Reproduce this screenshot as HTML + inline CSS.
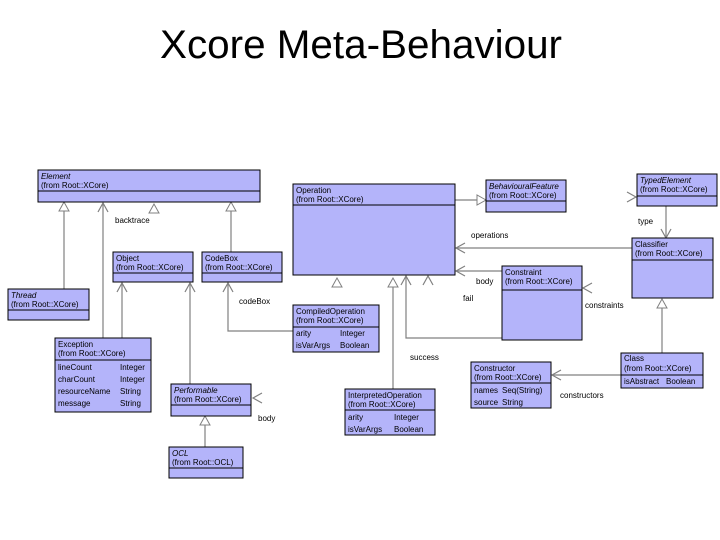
<!DOCTYPE html>
<html><head><meta charset="utf-8"><style>
html,body{margin:0;padding:0;background:#fff;}
svg{display:block;}
text{font-family:"Liberation Sans","DejaVu Sans",sans-serif;}
.b{fill:#b4b4fa;stroke:#000;stroke-width:1;}
.s{stroke:#000;stroke-width:1;}
.t{font-size:8px;fill:#000;}
.i{font-style:italic;}
.l{stroke:#808080;stroke-width:1.2;fill:none;}
.tri{stroke:#808080;stroke-width:1;fill:#fff;}
.lab{font-size:8px;fill:#000;}
</style></head><body>
<svg width="720" height="540" viewBox="0 0 720 540" xmlns="http://www.w3.org/2000/svg">
<text x="160" y="58" font-size="40" textLength="402" lengthAdjust="spacingAndGlyphs">Xcore Meta-Behaviour</text>

<!-- connector lines -->
<path class="l" d="M64 289V210"/>
<path class="l" d="M103 338V203"/>
<path class="l" d="M122 338V283"/>
<path class="l" d="M190 384V283"/>
<path class="l" d="M231 252V210"/>
<path class="l" d="M228 283V331H293"/>
<path class="l" d="M455 200H478"/>
<path class="l" d="M666 206V238"/>
<path class="l" d="M632 248H456"/>
<path class="l" d="M502 271H456"/>
<path class="l" d="M662 353V308"/>
<path class="l" d="M393 389V287"/>
<path class="l" d="M406 276V338H502"/>
<path class="l" d="M621 375H552"/>
<path class="l" d="M205 447V424"/>

<!-- hollow triangles -->
<polygon class="tri" points="64,202 59,211 69,211"/>
<polygon class="tri" points="154,204 149,213 159,213"/>
<polygon class="tri" points="231,202 226,211 236,211"/>
<polygon class="tri" points="486,200 477,195 477,205"/>
<polygon class="tri" points="337,278 332,287 342,287"/>
<polygon class="tri" points="393,278 388,287 398,287"/>
<polygon class="tri" points="662,299 657,308 667,308"/>
<polygon class="tri" points="205,416 200,425 210,425"/>

<!-- open arrows -->
<path class="l" d="M98 212L103 203L108 212"/>
<path class="l" d="M117 292L122 283L127 292"/>
<path class="l" d="M185 292L190 283L195 292"/>
<path class="l" d="M223 292L228 283L233 292"/>
<path class="l" d="M401 285L406 276L411 285"/>
<path class="l" d="M423 285L428 276L433 285"/>
<path class="l" d="M465 243L456 248L465 253"/>
<path class="l" d="M465 266L456 271L465 276"/>
<path class="l" d="M592 283L583 288L592 293"/>
<path class="l" d="M627 192L636 197L627 202"/>
<path class="l" d="M661 229L666 238L671 229"/>
<path class="l" d="M561 370L552 375L561 380"/>
<path class="l" d="M262 393L253 398L262 403"/>

<!-- labels -->
<text class="lab" x="115" y="223">backtrace</text>
<text class="lab" x="239" y="304">codeBox</text>
<text class="lab" x="471" y="238">operations</text>
<text class="lab" x="638" y="224">type</text>
<text class="lab" x="476" y="284">body</text>
<text class="lab" x="463" y="301">fail</text>
<text class="lab" x="585" y="308">constraints</text>
<text class="lab" x="410" y="360">success</text>
<text class="lab" x="560" y="398">constructors</text>
<text class="lab" x="258" y="421">body</text>

<!-- Element -->
<rect class="b" x="38" y="170" width="222" height="32"/><line class="s" x1="38" y1="191" x2="260" y2="191"/>
<text class="t i" x="41" y="179">Element</text><text class="t" x="41" y="188">(from Root::XCore)</text>
<!-- Thread -->
<rect class="b" x="8" y="289" width="81" height="31"/><line class="s" x1="8" y1="310" x2="89" y2="310"/>
<text class="t i" x="11" y="298">Thread</text><text class="t" x="11" y="307">(from Root::XCore)</text>
<!-- Object -->
<rect class="b" x="113" y="252" width="80" height="30"/><line class="s" x1="113" y1="273" x2="193" y2="273"/>
<text class="t" x="116" y="261">Object</text><text class="t" x="116" y="270">(from Root::XCore)</text>
<!-- CodeBox -->
<rect class="b" x="202" y="252" width="80" height="30"/><line class="s" x1="202" y1="273" x2="282" y2="273"/>
<text class="t" x="205" y="261">CodeBox</text><text class="t" x="205" y="270">(from Root::XCore)</text>
<!-- Operation -->
<rect class="b" x="293" y="184" width="162" height="91"/><line class="s" x1="293" y1="205" x2="455" y2="205"/>
<text class="t" x="296" y="193">Operation</text><text class="t" x="296" y="202">(from Root::XCore)</text>
<!-- BehaviouralFeature -->
<rect class="b" x="486" y="180" width="80" height="32"/><line class="s" x1="486" y1="201" x2="566" y2="201"/>
<text class="t i" x="489" y="189">BehaviouralFeature</text><text class="t" x="489" y="198">(from Root::XCore)</text>
<!-- TypedElement -->
<rect class="b" x="637" y="174" width="80" height="32"/><line class="s" x1="637" y1="196" x2="717" y2="196"/>
<text class="t i" x="640" y="183">TypedElement</text><text class="t" x="640" y="192">(from Root::XCore)</text>
<!-- Classifier -->
<rect class="b" x="632" y="238" width="81" height="60"/><line class="s" x1="632" y1="260" x2="713" y2="260"/>
<text class="t" x="635" y="247">Classifier</text><text class="t" x="635" y="256">(from Root::XCore)</text>
<!-- Constraint -->
<rect class="b" x="502" y="266" width="80" height="74"/><line class="s" x1="502" y1="290" x2="582" y2="290"/>
<text class="t" x="505" y="275">Constraint</text><text class="t" x="505" y="284">(from Root::XCore)</text>
<!-- CompiledOperation -->
<rect class="b" x="293" y="305" width="86" height="47"/><line class="s" x1="293" y1="327" x2="379" y2="327"/>
<text class="t" x="296" y="314">CompiledOperation</text><text class="t" x="296" y="323">(from Root::XCore)</text>
<text class="t" x="296" y="336">arity</text><text class="t" x="340" y="336">Integer</text>
<text class="t" x="296" y="348">isVarArgs</text><text class="t" x="340" y="348">Boolean</text>
<!-- Exception -->
<rect class="b" x="55" y="338" width="96" height="74"/><line class="s" x1="55" y1="360" x2="151" y2="360"/>
<text class="t" x="58" y="347">Exception</text><text class="t" x="58" y="356">(from Root::XCore)</text>
<text class="t" x="58" y="370">lineCount</text><text class="t" x="120" y="370">Integer</text>
<text class="t" x="58" y="382">charCount</text><text class="t" x="120" y="382">Integer</text>
<text class="t" x="58" y="394">resourceName</text><text class="t" x="120" y="394">String</text>
<text class="t" x="58" y="406">message</text><text class="t" x="120" y="406">String</text>
<!-- Performable -->
<rect class="b" x="171" y="384" width="80" height="32"/><line class="s" x1="171" y1="405" x2="251" y2="405"/>
<text class="t i" x="174" y="393">Performable</text><text class="t" x="174" y="402">(from Root::XCore)</text>
<!-- OCL -->
<rect class="b" x="169" y="447" width="74" height="31"/><line class="s" x1="169" y1="468" x2="243" y2="468"/>
<text class="t i" x="172" y="456">OCL</text><text class="t" x="172" y="465">(from Root::OCL)</text>
<!-- InterpretedOperation -->
<rect class="b" x="345" y="389" width="90" height="46"/><line class="s" x1="345" y1="410" x2="435" y2="410"/>
<text class="t" x="348" y="398">InterpretedOperation</text><text class="t" x="348" y="407">(from Root::XCore)</text>
<text class="t" x="348" y="420">arity</text><text class="t" x="394" y="420">Integer</text>
<text class="t" x="348" y="432">isVarArgs</text><text class="t" x="394" y="432">Boolean</text>
<!-- Constructor -->
<rect class="b" x="471" y="362" width="80" height="46"/><line class="s" x1="471" y1="383" x2="551" y2="383"/>
<text class="t" x="474" y="371">Constructor</text><text class="t" x="474" y="380">(from Root::XCore)</text>
<text class="t" x="474" y="393">names</text><text class="t" x="502" y="393">Seq(String)</text>
<text class="t" x="474" y="405">source</text><text class="t" x="502" y="405">String</text>
<!-- Class -->
<rect class="b" x="621" y="353" width="82" height="35"/><line class="s" x1="621" y1="375" x2="703" y2="375"/>
<text class="t" x="624" y="361">Class</text><text class="t" x="624" y="371">(from Root::XCore)</text>
<text class="t" x="624" y="384">isAbstract</text><text class="t" x="666" y="384">Boolean</text>
</svg>
</body></html>
